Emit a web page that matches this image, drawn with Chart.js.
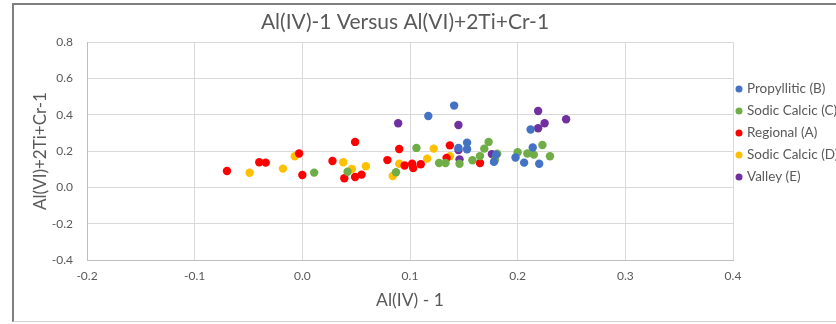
<!DOCTYPE html>
<html>
<head>
<meta charset="utf-8">
<title>Al(IV)-1 Versus Al(VI)+2Ti+Cr-1</title>
<script src="https://cdn.jsdelivr.net/npm/chart.js@4/dist/chart.umd.min.js"></script>
<style>
  html, body { margin: 0; padding: 0; background: #fff; overflow: hidden; }
  #frame {
    position: absolute; left: 12px; top: 3px; width: 900px; height: 316px;
    border-left: 2px solid #7f7f7f; border-top: 2px solid #7f7f7f; border-bottom: 1px solid #d0d0d0;
  }
  #wrap { position: absolute; left: 0; top: 0; width: 836px; height: 324px; }
</style>
</head>
<body>
<div id="frame"></div>
<div id="wrap"><canvas id="chart"></canvas></div>
<script>
// Series labels and colours (legend order)
const seriesNames = ['Propyllitic (B)', 'Sodic Calcic (C)', 'Regional (A)', 'Sodic Calcic (D)', 'Valley (E)'];
const seriesColors = ['#4472C4', '#70AD47', '#FF0000', '#FFC000', '#7030A0'];

// Propyllitic (B)
const propX = [0.117, 0.141, 0.153, 0.145, 0.153, 0.178, 0.180, 0.212, 0.214, 0.198, 0.206, 0.220];
const propY = [0.393, 0.450, 0.246, 0.217, 0.210, 0.140, 0.180, 0.318, 0.219, 0.164, 0.136, 0.130];

// Sodic Calcic (C)
const scCX = [0.011, 0.042, 0.087, 0.106, 0.127, 0.133, 0.146, 0.158, 0.165, 0.169, 0.173, 0.179, 0.181, 0.200, 0.209, 0.215, 0.223, 0.230];
const scCY = [0.081, 0.086, 0.083, 0.217, 0.134, 0.134, 0.130, 0.149, 0.172, 0.213, 0.250, 0.152, 0.185, 0.193, 0.186, 0.180, 0.233, 0.171];

// Regional (A)
const regX = [-0.070, -0.040, -0.034, -0.003, 0.000, 0.028, 0.039, 0.049, 0.055, 0.049, 0.079, 0.090, 0.095, 0.102, 0.103, 0.110, 0.134, 0.137, 0.165];
const regY = [0.090, 0.138, 0.136, 0.186, 0.068, 0.145, 0.050, 0.057, 0.070, 0.250, 0.150, 0.211, 0.120, 0.130, 0.106, 0.127, 0.162, 0.231, 0.134];

// Sodic Calcic (D)
const scDX = [-0.049, -0.018, -0.007, 0.038, 0.046, 0.059, 0.084, 0.090, 0.116, 0.122, 0.137];
const scDY = [0.080, 0.103, 0.171, 0.138, 0.101, 0.116, 0.062, 0.130, 0.158, 0.213, 0.171];

// Valley (E)
const valX = [0.089, 0.145, 0.145, 0.146, 0.176, 0.219, 0.225, 0.219, 0.245];
const valY = [0.353, 0.343, 0.205, 0.154, 0.183, 0.420, 0.353, 0.325, 0.375];

// Axis ranges
const xMin = -0.2, xMax = 0.4, xStep = 0.1;
const yMin = -0.4, yMax = 0.8, yStep = 0.2;

const chartTitle = 'Al(IV)-1 Versus Al(VI)+2Ti+Cr-1';
const xTitle = 'Al(IV) - 1';
const yTitle = 'Al(VI)+2Ti+Cr-1';

const FONT = "'Lato', 'Open Sans', sans-serif";
const TEXT = '#595959';

function toPoints(xs, ys) {
  return xs.map((x, i) => ({ x: x, y: ys[i] }));
}

const seriesData = [
  toPoints(propX, propY),
  toPoints(scCX, scCY),
  toPoints(regX, regY),
  toPoints(scDX, scDY),
  toPoints(valX, valY),
];

// Title and legend drawn at fixed spots, like the Excel layout
const overlayPlugin = {
  id: 'overlay',
  afterDraw(chart) {
    const ctx = chart.ctx;
    ctx.save();
    ctx.fillStyle = TEXT;
    ctx.font = `21px ${FONT}`;
    ctx.textAlign = 'center';
    ctx.textBaseline = 'middle';
    ctx.fillText(chartTitle, 405, 22);

    ctx.font = `13.5px ${FONT}`;
    ctx.textAlign = 'left';
    chart.data.datasets.forEach((ds, i) => {
      const y = 89 + i * 22;
      ctx.beginPath();
      ctx.fillStyle = ds.backgroundColor;
      ctx.arc(739, y, 3.5, 0, Math.PI * 2);
      ctx.fill();
      ctx.fillStyle = TEXT;
      ctx.fillText(ds.label, 747, y);
    });
    ctx.restore();
  }
};

new Chart(document.getElementById('chart'), {
  type: 'scatter',
  data: {
    datasets: seriesData.map((pts, i) => ({
      label: seriesNames[i],
      data: pts,
      backgroundColor: seriesColors[i],
      borderColor: seriesColors[i],
      borderWidth: 0,
      pointRadius: 4.2,
      pointHoverRadius: 4.2,
    }))
  },
  options: {
    responsive: true,
    maintainAspectRatio: false,
    animation: false,
    layout: { padding: { left: 0, right: 103, top: 42, bottom: 0 } },
    plugins: {
      legend: { display: false },
      title: { display: false },
      tooltip: { enabled: false }
    },
    scales: {
      x: {
        type: 'linear',
        min: xMin,
        max: xMax,
        afterFit: s => { s.height = 64; },
        ticks: {
          stepSize: xStep,
          padding: 9,
          color: TEXT,
          font: { family: FONT, size: 12 }
        },
        grid: { color: '#d9d9d9', drawTicks: false },
        border: { color: '#bfbfbf' },
        title: {
          display: true,
          text: xTitle,
          color: TEXT,
          font: { family: FONT, size: 17.5 },
          padding: { top: 0, bottom: 13 }
        }
      },
      y: {
        type: 'linear',
        min: yMin,
        max: yMax,
        afterFit: s => { s.width = 87; },
        ticks: {
          stepSize: yStep,
          padding: 14,
          color: TEXT,
          font: { family: FONT, size: 12 }
        },
        grid: { color: '#d9d9d9', drawTicks: false },
        border: { color: '#bfbfbf' },
        title: {
          display: true,
          text: yTitle,
          color: TEXT,
          font: { family: FONT, size: 17 },
          padding: { top: 30, bottom: 0 }
        }
      }
    }
  },
  plugins: [overlayPlugin]
});
</script>
</body>
</html>
